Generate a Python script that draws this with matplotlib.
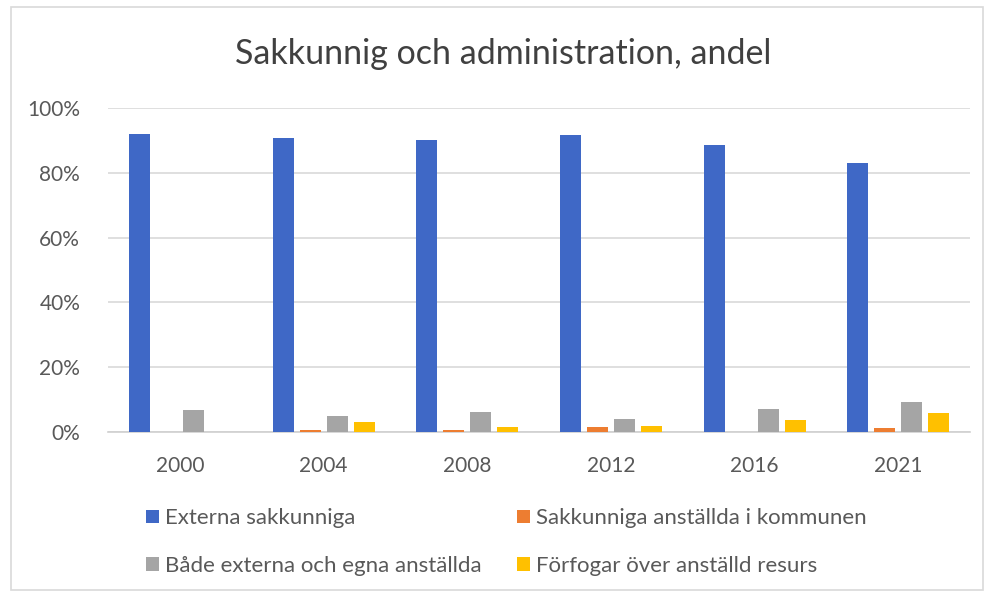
import matplotlib.pyplot as plt
from matplotlib.patches import Rectangle
import numpy as np

years = ["2000", "2004", "2008", "2012", "2016", "2021"]
externa = [92.0, 90.7, 90.0, 91.7, 88.6, 83.0]
anstallda = [0.0, 0.5, 0.5, 1.5, 0.0, 1.2]
bade = [6.8, 4.9, 6.2, 4.0, 7.0, 9.3]
forfogar = [0.0, 3.0, 1.5, 2.0, 3.6, 5.8]

names = ["Externa sakkunniga", "Sakkunniga anställda i kommunen",
         "Både externa och egna anställda", "Förfogar över anställd resurs"]
colors = ["#3F68C6", "#ED7D31", "#A5A5A5", "#FFC000"]
series = [externa, anstallda, bade, forfogar]

plt.rcParams['font.family'] = ['Lato', 'DejaVu Sans']

fig = plt.figure(figsize=(9.87, 5.97), dpi=100)
ax = fig.add_axes([0.1094, 0.2764, 0.8736, 0.5427])

x = np.arange(len(years))
slot = 0.188
w = 0.146
bars = []
for k, (vals, c) in enumerate(zip(series, colors)):
    b = ax.bar(x + (k - 1.5) * slot, vals, w, color=c, label=names[k], zorder=3)
    bars.append(b)

ax.set_xlim(-0.5, len(years) - 0.5)
ax.set_ylim(0, 100)
ax.set_yticks(np.arange(0, 101, 20))
ax.set_yticklabels([f"{v}%" for v in range(0, 101, 20)])
ax.set_xticks(x)
ax.set_xticklabels(years)
ax.yaxis.grid(True, color="#D9D9D9", linewidth=1.2, zorder=0)
for s in ["top", "right", "left"]:
    ax.spines[s].set_visible(False)
ax.spines["bottom"].set_color("#D0D0D0")
ax.spines["bottom"].set_linewidth(1.2)
ax.tick_params(axis="both", length=0, labelsize=15, labelcolor="#595959")
ax.tick_params(axis="y", pad=20)
ax.tick_params(axis="x", pad=17)

fig.text(0.51, 0.91, "Sakkunnig och administration, andel", ha="center",
         va="center", fontsize=24.5, color="#404040")

order = [0, 2, 1, 3]
leg = fig.legend([bars[i] for i in order], [names[i] for i in order],
                 ncol=2, loc="center left", bbox_to_anchor=(0.128, 0.092),
                 frameon=False, fontsize=16, handlelength=0.55,
                 handleheight=0.55, handletextpad=0.3, columnspacing=1.6,
                 labelspacing=1.25)
for t in leg.get_texts():
    t.set_color("#595959")

fig.patches.append(Rectangle((0.011, 0.012), 0.985, 0.977, transform=fig.transFigure,
                             fill=False, edgecolor="#D9D9D9", linewidth=1.2))

fig.savefig("out.png", dpi=100)
